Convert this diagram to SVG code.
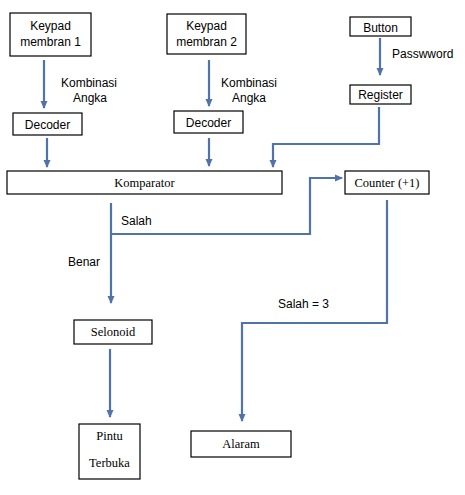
<svg xmlns="http://www.w3.org/2000/svg" width="465" height="495" viewBox="0 0 465 495">
<style>
.box{fill:#fff;stroke:#000;stroke-width:1.2}
.sans{font-family:"Liberation Sans",Arial,sans-serif;font-size:12px;fill:#000}
.serif{font-family:"Liberation Serif","Times New Roman",serif;font-size:12.5px;fill:#000}
.c{text-anchor:middle}
.ln{fill:none;stroke:#4f73aa;stroke-width:2.2}
</style>
<defs>
<marker id="ah" markerUnits="userSpaceOnUse" markerWidth="8" markerHeight="8" viewBox="0 0 8 8" refX="7" refY="4" orient="auto">
<path d="M0,0.5 L8,4 L0,7.5 Z" fill="#4f73aa"/>
</marker>
</defs>
<rect width="465" height="495" fill="#fff"/>
<g id="connectors">
<path class="ln" d="M44,60 V108" marker-end="url(#ah)"/>
<path class="ln" d="M47,138 V167" marker-end="url(#ah)"/>
<path class="ln" d="M209,60 V106" marker-end="url(#ah)"/>
<path class="ln" d="M209,138 V166" marker-end="url(#ah)"/>
<path class="ln" d="M380,38 V75" marker-end="url(#ah)"/>
<path class="ln" d="M379,107 V144 H273 V167" marker-end="url(#ah)"/>
<path class="ln" d="M111,203 V303" marker-end="url(#ah)"/>
<path class="ln" d="M111,234 H310 V178 H342" marker-end="url(#ah)"/>
<path class="ln" d="M110,349 V417" marker-end="url(#ah)"/>
<path class="ln" d="M387,200 V323 H242 V421" marker-end="url(#ah)"/>
<text class="sans" x="61" y="87">Kombinasi</text>
<text class="sans" x="73" y="102">Angka</text>
<text class="sans" x="221" y="87">Kombinasi</text>
<text class="sans" x="232" y="102">Angka</text>
<text class="sans" x="392" y="58">Passwword</text>
<text class="sans" x="121" y="225">Salah</text>
<text class="sans" x="68" y="266">Benar</text>
<text class="sans" x="278" y="308">Salah = 3</text>
</g>
<g id="keypad1"><rect class="box" x="10" y="13" width="81" height="43"/><text class="sans c" x="50.5" y="30">Keypad</text><text class="sans c" x="50.5" y="46">membran 1</text></g>
<g id="decoder1"><rect class="box" x="13" y="113" width="69" height="22"/><text class="sans c" x="47.5" y="129">Decoder</text></g>
<g id="keypad2"><rect class="box" x="167" y="14" width="79" height="40"/><text class="sans c" x="206.5" y="30">Keypad</text><text class="sans c" x="206.5" y="46">membran 2</text></g>
<g id="decoder2"><rect class="box" x="174" y="111" width="69" height="22"/><text class="sans c" x="208.5" y="127">Decoder</text></g>
<g id="button"><rect class="box" x="350" y="17" width="61" height="19"/><text class="sans c" x="380.5" y="32">Button</text></g>
<g id="register"><rect class="box" x="350" y="85" width="61" height="19"/><text class="sans c" x="380.5" y="99">Register</text></g>
<g id="komparator"><rect class="box" x="7" y="171" width="275" height="23"/><text class="serif c" x="144.5" y="187">Komparator</text></g>
<g id="counter"><rect class="box" x="345" y="171" width="84" height="23"/><text class="serif c" x="387" y="187">Counter (+1)</text></g>
<g id="selonoid"><rect class="box" x="74" y="320" width="78" height="24"/><text class="serif c" x="113" y="336">Selonoid</text></g>
<g id="pintu"><rect class="box" x="79" y="424" width="61" height="55"/><text class="serif c" x="109.5" y="440">Pintu</text><text class="serif c" x="109.5" y="467">Terbuka</text></g>
<g id="alaram"><rect class="box" x="191" y="431" width="100" height="26"/><text class="serif c" x="241" y="448">Alaram</text></g>
</svg>
